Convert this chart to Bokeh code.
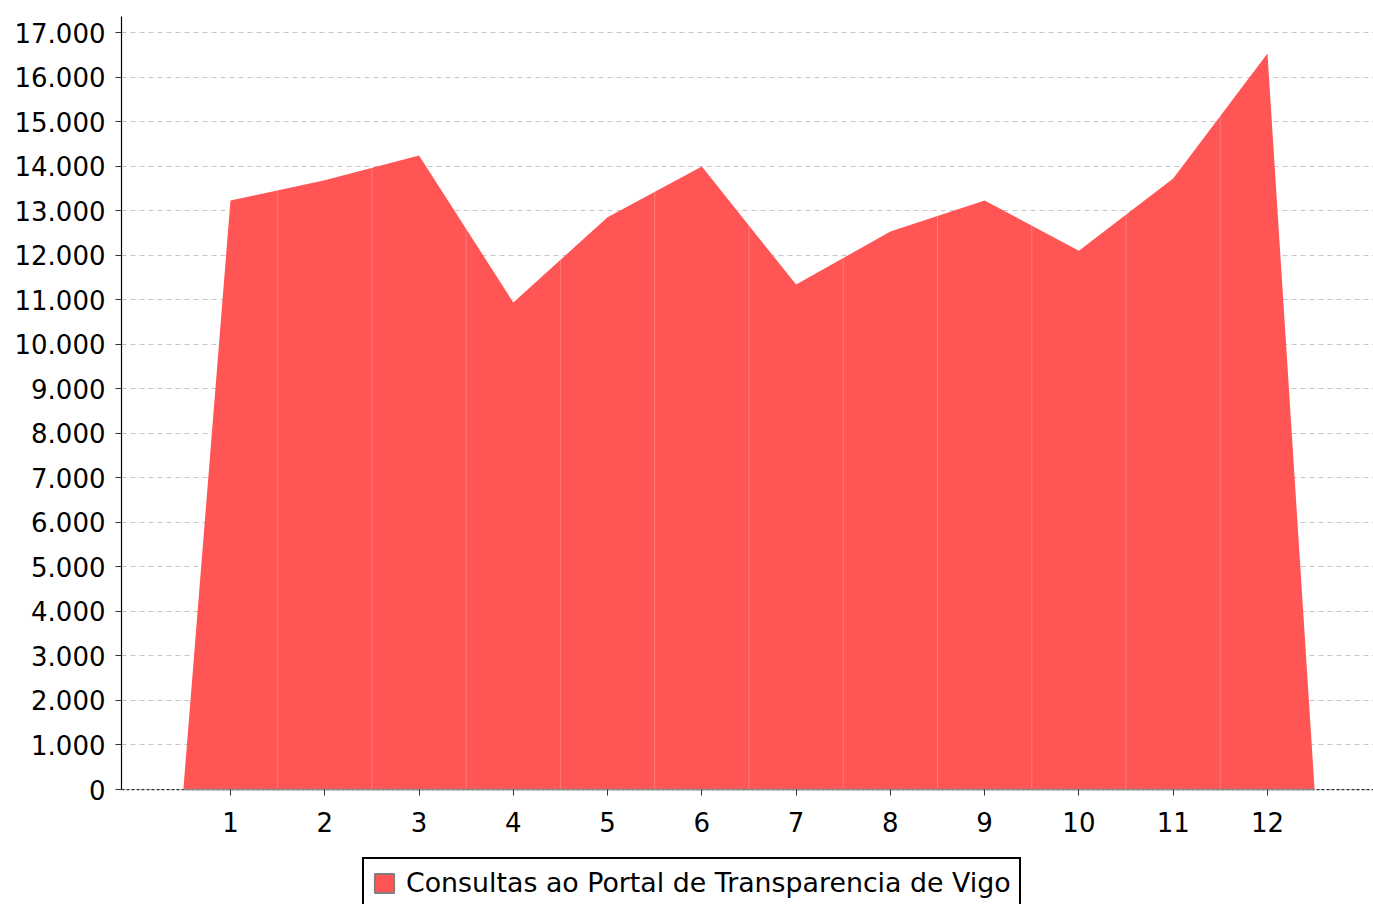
import numpy as np
from bokeh.plotting import figure
from bokeh.models import (Range1d, FixedTicker, Legend, LegendItem, Span)
from bokeh.embed import file_html
from bokeh.resources import INLINE

# ---- data ----
months = [1, 2, 3, 4, 5, 6, 7, 8, 9, 10, 11, 12]
consultas = [13230, 13680, 14240, 10940, 12850, 13990, 11340, 12530, 13230, 12100, 13720, 16530]
series_name = "Consultas ao Portal de Transparencia de Vigo"
y_ticks = list(range(0, 17001, 1000))
x_ticks = months

FONT = "DejaVu Sans"
RED = "#FF5555"
Y_TOP = 17360

# area outline: starts and ends at zero half a step outside the first/last month
xs = [months[0] - 0.5] + months + [months[-1] + 0.5]
ys = [0] + consultas + [0]

p = figure(width=1373, height=904, output_backend="svg", toolbar_location=None,
           x_range=Range1d(-0.156, 13.125), y_range=Range1d(-2582, Y_TOP))
p.frame_width = 1252
p.frame_height = 888
p.min_border_left = 121
p.min_border_right = 0
p.min_border_top = 16
p.min_border_bottom = 0
p.outline_line_color = None
p.background_fill_color = "white"
p.border_fill_color = "white"

# grid
p.xgrid.visible = False
p.ygrid.ticker = FixedTicker(ticks=y_ticks)
p.ygrid.grid_line_color = "#c8c8c8"
p.ygrid.grid_line_dash = "5 4"
p.ygrid.grid_line_width = 1

# zero line (dashed dark), covered by the area where it exists
zero = Span(location=0, dimension="width", line_color="#333333", line_dash="3 2",
            line_width=1.2, level="underlay")
p.add_layout(zero)

area = p.varea(x=xs, y1=[0] * len(xs), y2=ys, fill_color=RED, fill_alpha=1.0)

# faint separators at the half steps
half = np.array(months[:-1]) + 0.5
half_top = np.interp(half, xs, ys)
p.segment(x0=half, y0=np.zeros_like(half), x1=half, y1=half_top,
          line_color="white", line_alpha=0.22, line_width=1)

# grey base line under the area
p.line(x=[xs[0], xs[-1]], y=[0, 0], line_color="#8a8a8a", line_width=1.5)

# legend swatch style (red with grey border); NaN box so nothing is drawn on the plot
swatch = p.quad(left=[np.nan], right=[np.nan], top=[np.nan], bottom=[np.nan],
                fill_color=RED, line_color="#808080", line_width=2)

# axes
p.yaxis.ticker = FixedTicker(ticks=y_ticks)
p.yaxis.bounds = (0, Y_TOP)
p.yaxis.major_label_overrides = {v: f"{v:,}".replace(",", ".") for v in y_ticks}
p.yaxis.axis_line_color = "black"
p.yaxis.axis_line_width = 1.2
p.yaxis.major_tick_out = 6
p.yaxis.major_tick_in = 0
p.yaxis.minor_tick_line_color = None
p.yaxis.major_tick_line_color = "#333333"
p.yaxis.major_label_standoff = 10

p.xaxis.ticker = FixedTicker(ticks=x_ticks)
p.xaxis.fixed_location = 0
p.xaxis.axis_line_color = None
p.xaxis.major_tick_out = 6
p.xaxis.major_tick_in = 0
p.xaxis.minor_tick_line_color = None
p.xaxis.major_tick_line_color = "#333333"
p.xaxis.major_label_standoff = 16

for ax in (p.xaxis, p.yaxis):
    ax.major_label_text_font = FONT
    ax.major_label_text_font_size = "26px"
    ax.major_label_text_color = "black"

legend = Legend(items=[LegendItem(label=series_name, renderers=[swatch])],
                location=(241, -4), orientation="horizontal")
legend.label_text_font = FONT
legend.label_text_font_size = "26.8px"
legend.label_text_color = "black"
legend.border_line_color = "black"
legend.border_line_width = 2.5
legend.border_line_alpha = 1.0
legend.background_fill_color = "white"
legend.background_fill_alpha = 1.0
legend.glyph_width = 24
legend.glyph_height = 24
legend.padding = 8
legend.margin = 0
legend.label_standoff = 10
p.add_layout(legend, "center")

open("out.html", "w").write(file_html(p, INLINE))
